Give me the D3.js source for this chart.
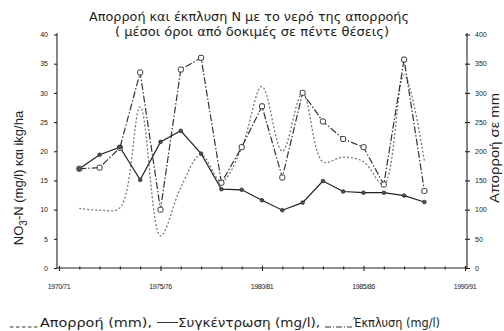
<!DOCTYPE html>
<html>
<head>
<meta charset="utf-8">
<script src="https://cdn.jsdelivr.net/npm/d3@7"></script>
<style>
  body { margin: 0; background: #fff; }
  text { font-family: "Liberation Sans", Arial, sans-serif; fill: #222; }
  .wide { font-family: "DejaVu Sans", sans-serif; }
</style>
</head>
<body>
<svg id="chart"></svg>
<script>
// Years on the x axis (index 0 = 1970/71)
const yearTicks = [0, 5, 10, 15, 20];
const yearLabels = ["1970/71", "1975/76", "1980/81", "1985/86", "1990/91"];
const pointYears = [1, 2, 3, 4, 5, 6, 7, 8, 9, 10, 11, 12, 13, 14, 15, 16, 17, 18];

// Συγκέντρωση (mg/l) - solid line, left axis
const concentration = [17.0, 19.4, 20.7, 15.1, 21.6, 23.5, 19.6, 13.5, 13.4, 11.6, 9.9, 11.2, 14.9, 13.1, 12.9, 12.9, 12.4, 11.3];
// Έκπλυση - dash-dot line, left axis
const leaching = [17.0, 17.2, 20.6, 33.5, 10.0, 34.0, 36.0, 14.6, 20.7, 27.7, 15.5, 30.0, 25.1, 22.1, 20.7, 14.3, 35.7, 13.2];
// Απορροή (mm) - dotted line, right axis
const runoff = [102, 99, 103, 276, 55, 138, 194, 148, 206, 311, 200, 300, 182, 190, 182, 143, 331, 183];

const leftTicks = [0, 5, 10, 15, 20, 25, 30, 35, 40];
const rightTicks = [0, 50, 100, 150, 200, 250, 300, 350, 400];

const width = 504, height = 331;
const svg = d3.select("#chart").attr("width", width).attr("height", height);

// Scales
const x = d3.scaleLinear().domain([0, 20]).range([59, 465]);
const yLeft = d3.scaleLinear().domain([0, 40]).range([268, 34.5]);
const yRight = d3.scaleLinear().domain([0, 400]).range([268, 34.5]);
const axisLeftX = 57, axisRightX = 467;

// Title
svg.append("text").attr("class", "wide").attr("x", 89).attr("y", 21)
  .attr("textLength", 320).attr("lengthAdjust", "spacingAndGlyphs")
  .style("font-size", "12px").text("Απορροή και έκπλυση N με το νερό της απορροής");
svg.append("text").attr("class", "wide").attr("x", 115).attr("y", 35.5)
  .attr("textLength", 274).attr("lengthAdjust", "spacingAndGlyphs")
  .style("font-size", "12px").text("( μέσοι όροι από δοκιμές σε πέντε θέσεις)");

// Axes
const xAxis = svg.append("g")
  .attr("transform", `translate(0,268)`)
  .call(d3.axisBottom(x).tickValues(d3.range(0, 21)).tickSize(3).tickFormat(""));
xAxis.select(".domain").attr("d", `M${axisLeftX},0H${axisRightX}`);
xAxis.selectAll(".tick line").attr("y1", -1.5).attr("y2", 1.5);
xAxis.selectAll(".tick").filter(d => yearTicks.includes(d)).select("line").attr("y1", -2).attr("y2", 3);
yearTicks.forEach((t, i) => {
  svg.append("text").attr("x", x(t)).attr("y", 289).attr("text-anchor", "middle")
    .style("font-size", "7px").style("letter-spacing", "-0.4px").text(yearLabels[i]);
});

const lAxis = svg.append("g")
  .attr("transform", `translate(${axisLeftX},0)`)
  .call(d3.axisLeft(yLeft).tickValues(leftTicks).tickSize(3).tickPadding(6));
lAxis.select(".domain").attr("d", `M0,268V33`);
lAxis.selectAll("text").style("font-size", "7px");

const rAxis = svg.append("g")
  .attr("transform", `translate(${axisRightX},0)`)
  .call(d3.axisRight(yRight).tickValues(rightTicks).tickSize(3).tickPadding(5));
rAxis.select(".domain").attr("d", `M0,268V33`);
rAxis.selectAll(".tick line").attr("x1", -2);
rAxis.selectAll("text").style("font-size", "7px");

svg.selectAll(".domain, .tick line").attr("stroke", "#222").attr("stroke-width", 1.1);

// Axis titles
const leftTitle = svg.append("text")
  .attr("transform", "translate(23,178) rotate(-90)")
  .attr("text-anchor", "middle").style("font-size", "13px");
leftTitle.append("tspan").text("NO");
leftTitle.append("tspan").attr("dy", 4).style("font-size", "10px").text("3");
leftTitle.append("tspan").attr("dy", -4).text("-N (mg/l) και ikg/ha");

svg.append("text")
  .attr("transform", "translate(499,148) rotate(-90)")
  .attr("text-anchor", "middle").attr("textLength", 110).attr("lengthAdjust", "spacingAndGlyphs")
  .style("font-size", "13px").text("Απορροή σε mm");

// Lines
const runoffLine = d3.line()
  .x((d, i) => x(pointYears[i]))
  .y(d => yRight(d))
  .curve(d3.curveCatmullRom.alpha(0.5));
const leftLine = d3.line()
  .x((d, i) => x(pointYears[i]))
  .y(d => yLeft(d));

svg.append("path").datum(runoff)
  .attr("d", runoffLine).attr("fill", "none")
  .attr("stroke", "#777").attr("stroke-width", 1.3).attr("stroke-dasharray", "2,2");

svg.append("path").datum(leaching)
  .attr("d", leftLine).attr("fill", "none")
  .attr("stroke", "#333").attr("stroke-width", 1.2).attr("stroke-dasharray", "7,2,1.5,2");

svg.append("path").datum(concentration)
  .attr("d", leftLine).attr("fill", "none")
  .attr("stroke", "#222").attr("stroke-width", 1.2);

// Markers
svg.selectAll(".leach-pt").data(leaching).enter().append("rect")
  .attr("x", (d, i) => x(pointYears[i]) - 2.5)
  .attr("y", d => yLeft(d) - 2.5)
  .attr("width", 5).attr("height", 5).attr("rx", 1.5)
  .attr("fill", "#fff").attr("stroke", "#333").attr("stroke-width", 1);

svg.selectAll(".conc-pt").data(concentration).enter().append("circle")
  .attr("cx", (d, i) => x(pointYears[i]))
  .attr("cy", d => yLeft(d))
  .attr("r", 1.8)
  .attr("fill", "#555").attr("stroke", "#222").attr("stroke-width", 0.8);

// Legend
const legY = 327;
svg.append("line").attr("x1", 10).attr("x2", 39).attr("y1", legY).attr("y2", legY)
  .attr("stroke", "#333").attr("stroke-width", 1).attr("stroke-dasharray", "3.5,2.5");
svg.append("text").attr("class", "wide").attr("x", 40).attr("y", legY)
  .attr("textLength", 112).attr("lengthAdjust", "spacingAndGlyphs")
  .style("font-size", "12px").text("Απορροή (mm),");
svg.append("line").attr("x1", 157).attr("x2", 178).attr("y1", legY - 4.5).attr("y2", legY - 4.5)
  .attr("stroke", "#333").attr("stroke-width", 1);
svg.append("text").attr("class", "wide").attr("x", 178).attr("y", legY)
  .attr("textLength", 142).attr("lengthAdjust", "spacingAndGlyphs")
  .style("font-size", "12px").text("Συγκέντρωση (mg/l),");
svg.append("line").attr("x1", 325).attr("x2", 352).attr("y1", legY).attr("y2", legY)
  .attr("stroke", "#333").attr("stroke-width", 1).attr("stroke-dasharray", "6,2,1,2");
svg.append("text").attr("class", "wide").attr("x", 353).attr("y", legY)
  .attr("textLength", 87).attr("lengthAdjust", "spacingAndGlyphs")
  .style("font-size", "12px").text("Έκπλυση  (mg/l)");
</script>
</body>
</html>
